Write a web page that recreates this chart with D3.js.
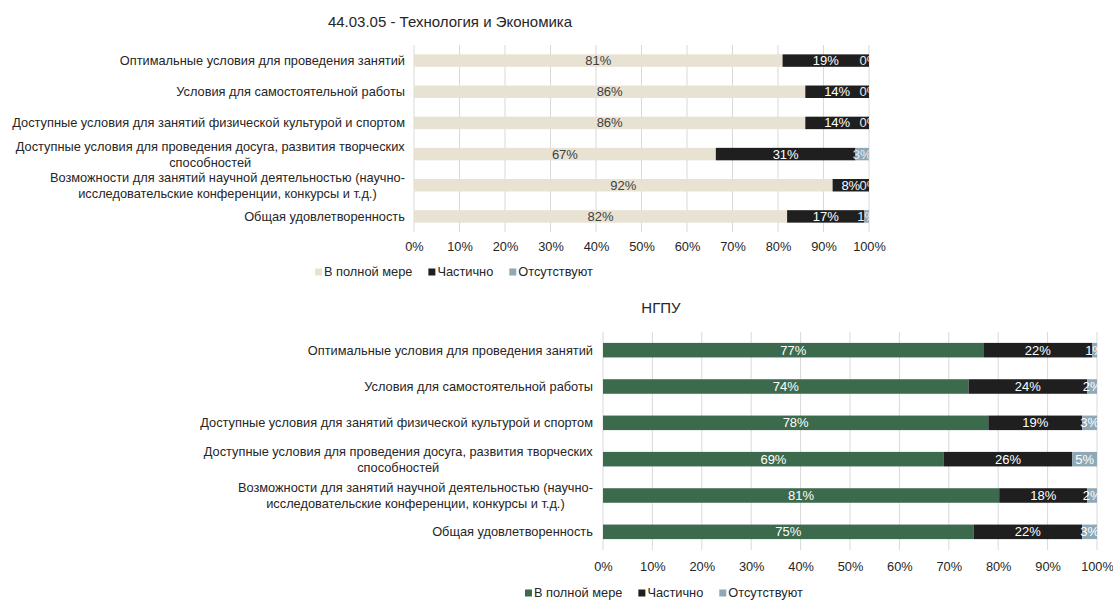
<!DOCTYPE html>
<html>
<head>
<meta charset="utf-8">
<script src="https://cdn.jsdelivr.net/npm/d3@7"></script>
<style>
  body { margin: 0; background: #fff; }
  text { font-family: "Liberation Sans", Arial, sans-serif; }
</style>
</head>
<body>
<svg id="chart" width="1113" height="600"></svg>
<script>
// categories (line breaks as in the original wrapped labels)
const categories = [
    "Оптимальные условия для проведения занятий",
    "Условия для самостоятельной работы",
    "Доступные условия для занятий физической культурой и спортом",
    "Доступные условия для проведения досуга, развития творческих\nспособностей",
    "Возможности для занятий научной деятельностью (научно-\nисследовательские конференции, конкурсы и т.д.)",
    "Общая удовлетворенность"
];
const seriesNames = ["В полной мере", "Частично", "Отсутствуют"];
const xTicks = [0, 0.1, 0.2, 0.3, 0.4, 0.5, 0.6, 0.7, 0.8, 0.9, 1];

// 44.03.05 - Технология и Экономика
const topTitle = "44.03.05 - Технология и Экономика";
const topFull    = [81, 86, 86, 67, 92, 82];
const topPartial = [19, 14, 14, 31, 8, 17];
const topAbsent  = [0, 0, 0, 3, 0, 1];

// НГПУ
const botTitle = "НГПУ";
const botFull    = [77, 74, 78, 69, 81, 75];
const botPartial = [22, 24, 19, 26, 18, 22];
const botAbsent  = [1, 2, 3, 5, 2, 3];

const svg = d3.select("#chart");

function drawChart(cfg, full, partial, absent) {
    const g = svg.append("g");
    const rows = categories.map((c, i) => ({cat: c, full: full[i], partial: partial[i], absent: absent[i]}));
    const keys = ["full", "partial", "absent"];
    const stack = d3.stack().keys(keys).offset(d3.stackOffsetExpand);
    const layers = stack(rows);

    const x = d3.scaleLinear().domain([0, 1]).range([cfg.x0, cfg.x1]);
    const y = d3.scaleBand().domain(categories).range([cfg.y0, cfg.y1])
        .paddingInner(0.6).paddingOuter(0.3);

    // title
    g.append("text")
        .attr("x", cfg.titleX)
        .attr("y", cfg.titleY)
        .attr("text-anchor", "middle")
        .attr("font-size", 15)
        .attr("fill", "#262626")
        .text(cfg.title);

    // gridlines
    g.selectAll(".grid").data(xTicks).join("line")
        .attr("x1", d => x(d)).attr("x2", d => x(d))
        .attr("y1", cfg.y0).attr("y2", cfg.y1)
        .attr("stroke", "#d9d9d9").attr("stroke-width", 1);

    // x axis labels
    const xAxis = d3.axisBottom(x).tickValues(xTicks).tickFormat(d3.format(".0%")).tickSize(0).tickPadding(0);
    const ax = g.append("g").attr("transform", `translate(0,${cfg.tickY})`).call(xAxis);
    ax.select(".domain").remove();
    ax.selectAll("text").attr("font-size", 12.8).attr("fill", "#262626")
        .attr("font-family", "'Liberation Sans', Arial, sans-serif").attr("dy", "0.35em").attr("y", 0);

    // bars
    const clipId = "clip" + cfg.id;
    g.append("clipPath").attr("id", clipId).append("rect")
        .attr("x", cfg.x0).attr("y", cfg.y0).attr("width", cfg.x1 - cfg.x0).attr("height", cfg.y1 - cfg.y0);

    layers.forEach((layer, k) => {
        g.append("g").selectAll("rect").data(layer).join("rect")
            .attr("x", d => x(d[0]))
            .attr("y", d => y(d.data.cat))
            .attr("width", d => x(d[1]) - x(d[0]))
            .attr("height", y.bandwidth())
            .attr("fill", cfg.colors[k]);
    });

    const lab = g.append("g").attr("clip-path", `url(#${clipId})`);
    layers.forEach((layer, k) => {
        lab.append("g").selectAll("text").data(layer).join("text")
            .attr("x", d => x((d[0] + d[1]) / 2))
            .attr("y", d => y(d.data.cat) + y.bandwidth() / 2)
            .attr("dy", "0.35em")
            .attr("text-anchor", "middle")
            .attr("font-size", 13)
            .attr("fill", cfg.labelColors[k])
            .text(d => d.data[layer.key] + "%");
    });

    // category labels, multi-line centred and right aligned as a block
    categories.forEach(c => {
        const lines = c.split("\n");
        const cy = y(c) + y.bandwidth() / 2;
        const t = g.append("text")
            .attr("font-size", 12.8)
            .attr("fill", "#262626")
            .attr("text-anchor", "middle");
        lines.forEach((ln, i) => {
            t.append("tspan")
                .attr("x", 0)
                .attr("y", cy + (i - (lines.length - 1) / 2) * 16)
                .attr("dy", "0.35em")
                .text(ln);
        });
        const w = t.node().getBBox().width;
        t.selectAll("tspan").attr("x", cfg.labelRight - w / 2);
    });

    // legend
    let lx = cfg.legendX;
    seriesNames.forEach((name, k) => {
        g.append("rect")
            .attr("x", lx).attr("y", cfg.legendY - 3.5)
            .attr("width", 7).attr("height", 7)
            .attr("fill", cfg.colors[k]);
        const t = g.append("text")
            .attr("x", lx + 9).attr("y", cfg.legendY)
            .attr("dy", "0.35em")
            .attr("font-size", 12.8)
            .attr("fill", "#262626")
            .text(name);
        lx += 9 + t.node().getComputedTextLength() + 16;
    });
}

drawChart({
    id: "top", title: topTitle,
    x0: 414, x1: 869, y0: 45, y1: 232,
    labelRight: 405, titleX: 450, titleY: 27,
    tickY: 247, legendX: 315, legendY: 272,
    colors: ["#e8e2d2", "#1f1f1f", "#8fa8b5"],
    labelColors: ["#404040", "#ffffff", "#e6eef2"]
}, topFull, topPartial, topAbsent);

drawChart({
    id: "bot", title: botTitle,
    x0: 603, x1: 1097, y0: 332, y1: 550,
    labelRight: 593, titleX: 661, titleY: 313,
    tickY: 567, legendX: 525, legendY: 593,
    colors: ["#3b6a4c", "#1f1f1f", "#8fa8b5"],
    labelColors: ["#ffffff", "#ffffff", "#ffffff"]
}, botFull, botPartial, botAbsent);
</script>
</body>
</html>
